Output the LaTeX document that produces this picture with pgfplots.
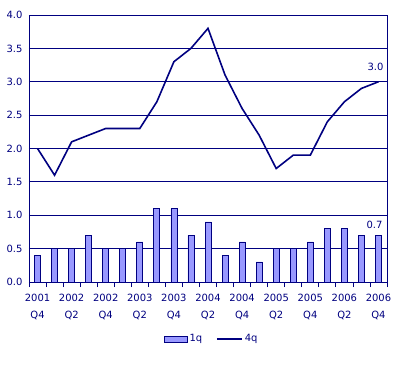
\documentclass[border=0pt]{standalone}
\usepackage{pgfplots}
\pgfplotsset{compat=1.18}
\usepackage{fontspec}
\setmainfont{DejaVu Sans}
\definecolor{navy}{RGB}{0,0,128}
\definecolor{barfill}{RGB}{153,153,255}
\begin{document}
\begin{tikzpicture}
\begin{axis}[
  scale only axis, width=358bp, height=267bp,
  xmin=-0.5, xmax=20.5, ymin=0, ymax=4,
  ytick={0,0.5,...,4}, ymajorgrids,
  grid style={navy, line width=0.8bp},
  axis line style={navy, line width=0.8bp},
  ytick style={draw=none},
  xtick={0,2,...,20},
  xticklabels={{2001\\Q4},{2002\\Q2},{2002\\Q4},{2003\\Q2},{2003\\Q4},{2004\\Q2},{2004\\Q4},{2005\\Q2},{2005\\Q4},{2006\\Q2},{2006\\Q4}},
  minor xtick={-0.5,0.5,...,20.5},
  major tick length=0pt, minor tick length=5bp,
  tick align=outside, xtick pos=bottom,
  minor tick style={navy, line width=0.8bp},
  /pgf/number format/assume math mode=true,
  tick label style={font=\fontsize{10}{12}\selectfont, text=navy},
  xticklabel style={align=center, yshift=-9bp, font=\fontsize{10}{16.5}\selectfont},
  yticklabel style={/pgf/number format/fixed, /pgf/number format/fixed zerofill, /pgf/number format/precision=1, xshift=-3bp},
  legend style={at={(0.51,-0.2135)}, anchor=center, draw=none, legend columns=-1,
    font=\fontsize{10}{12}\selectfont, text=navy,
    /tikz/every even column/.append style={column sep=12bp}},
]
\addplot[ybar, bar width=6bp, fill=barfill, draw=navy, line width=0.8bp,
  legend image code/.code={\draw[fill=barfill, draw=navy, line width=0.8bp] (0bp,-3bp) rectangle (23bp,3bp);}]
  coordinates {(0,0.4) (1,0.5) (2,0.5) (3,0.7) (4,0.5) (5,0.5) (6,0.6) (7,1.1) (8,1.1) (9,0.7) (10,0.9) (11,0.4) (12,0.6) (13,0.3) (14,0.5) (15,0.5) (16,0.6) (17,0.8) (18,0.8) (19,0.7) (20,0.7)};
\addlegendentry{1q}
\addplot[navy, line width=1.6bp, mark=none,
  legend image code/.code={\draw[navy, line width=1.6bp] (0bp,0bp) -- (25bp,0bp);}]
  coordinates {(0,2.0) (1,1.6) (2,2.1) (3,2.2) (4,2.3) (5,2.3) (6,2.3) (7,2.7) (8,3.3) (9,3.5) (10,3.8) (11,3.1) (12,2.6) (13,2.2) (14,1.7) (15,1.9) (16,1.9) (17,2.4) (18,2.7) (19,2.9) (20,3.0)};
\addlegendentry{4q}
\node[anchor=south, yshift=8bp, xshift=-3bp, text=navy, font=\fontsize{10}{12}\selectfont] at (axis cs:20,3.0) {3.0};
\node[anchor=south, yshift=1bp, xshift=-4bp, fill=white, inner xsep=3bp, inner ysep=5bp, text=navy, font=\fontsize{10}{12}\selectfont] at (axis cs:20,0.7) {0.7};
\end{axis}
\path ([xshift=-29bp,yshift=-88bp]current axis.south west) rectangle ([xshift=8bp,yshift=15bp]current axis.north east);
\end{tikzpicture}
\end{document}
